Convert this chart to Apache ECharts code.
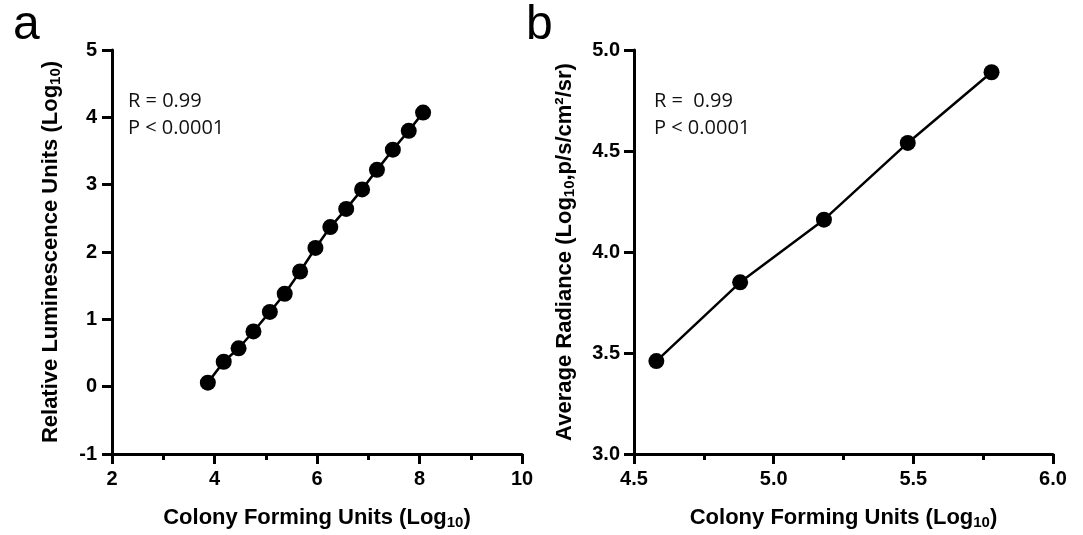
<!DOCTYPE html>
<html>
<head>
<meta charset="utf-8">
<title>CFU vs luminescence</title>
<script src="https://cdn.jsdelivr.net/npm/echarts@6/dist/echarts.min.js"></script>
</head>
<body style="margin:0;background:#fff">
<div id="main" style="width:1083px;height:535px;"></div>
<script type="text/javascript">
// panel a
var cfuA = [3.87, 4.18, 4.47, 4.76, 5.08, 5.37, 5.67, 5.97, 6.26, 6.57, 6.88, 7.17, 7.48, 7.79, 8.07];
var rluA = [0.06, 0.37, 0.57, 0.82, 1.11, 1.38, 1.71, 2.06, 2.37, 2.64, 2.93, 3.22, 3.52, 3.80, 4.07];
// panel b
var cfuB = [4.58, 4.88, 5.18, 5.48, 5.78];
var radB = [3.46, 3.85, 4.16, 4.54, 4.89];

var xNameA = 'Colony Forming Units (Log{s|10})';
var yNameA = 'Relative Luminescence Units (Log{s|10})';
var xNameB = 'Colony Forming Units (Log{s|10})';
var yNameB = 'Average Radiance (Log{s|10},p/s/cm²/sr)';

var FONT = 'Liberation Sans';
var chart = echarts.init(document.getElementById('main'));

function nameStyle() {
    return {
        fontFamily: FONT, fontWeight: 'bold', fontSize: 22, color: '#000',
        rich: { s: { fontFamily: FONT, fontWeight: 'bold', fontSize: 15, color: '#000', padding: [10, 0, 0, 0] } }
    };
}

function axis(grid, min, max, step, name, gap, minor, margin) {
    return {
        type: 'value', gridIndex: grid, min: min, max: max, interval: step,
        name: name, nameLocation: 'middle', nameGap: gap, nameTextStyle: nameStyle(),
        axisLine: { show: true, onZero: false, lineStyle: { color: '#000', width: 3 } },
        axisTick: { show: true, length: 10, lineStyle: { color: '#000', width: 3 } },
        minorTick: { show: minor, splitNumber: 2, length: 6, lineStyle: { color: '#000', width: 3 } },
        axisLabel: { color: '#000', fontFamily: FONT, fontWeight: 'bold', fontSize: 20, margin: margin,
            formatter: function (v) { return step < 1 ? v.toFixed(1) : String(v); } },
        splitLine: { show: false }
    };
}

function pairs(xs, ys) {
    return xs.map(function (x, i) { return [x, ys[i]]; });
}

var noteStyle = { fontFamily: 'Open Sans', fontSize: 20, fill: '#111', lineHeight: 27 };

var option = {
    backgroundColor: '#fff',
    animation: false,
    grid: [
        { left: 112, top: 50, width: 410, height: 409 },
        { left: 634, top: 50, width: 419, height: 409 }
    ],
    xAxis: [
        axis(0, 2, 10, 2, xNameA, 51, true, 15),
        axis(1, 4.5, 6.0, 0.5, xNameB, 51, true, 15)
    ],
    yAxis: [
        axis(0, -1, 5, 1, yNameA, 49, false, 15),
        axis(1, 3.0, 5.0, 0.5, yNameB, 57, false, 14)
    ],
    graphic: [
        { type: 'text', left: 13, top: 2, style: { text: 'a', fontFamily: FONT, fontSize: 48, fill: '#000' } },
        { type: 'text', left: 526, top: 2, style: { text: 'b', fontFamily: FONT, fontSize: 48, fill: '#000' } },
        { type: 'text', left: 128, top: 88, style: Object.assign({ text: 'R = 0.99\nP < 0.0001' }, noteStyle) },
        { type: 'text', left: 654, top: 88, style: Object.assign({ text: 'R =  0.99\nP < 0.0001' }, noteStyle) }
    ],
    series: [
        {
            type: 'line', xAxisIndex: 0, yAxisIndex: 0,
            data: pairs(cfuA, rluA),
            symbol: 'circle', symbolSize: 16,
            lineStyle: { color: '#000', width: 2.5 },
            itemStyle: { color: '#000' }
        },
        {
            type: 'line', xAxisIndex: 1, yAxisIndex: 1,
            data: pairs(cfuB, radB),
            symbol: 'circle', symbolSize: 16,
            lineStyle: { color: '#000', width: 2.5 },
            itemStyle: { color: '#000' }
        }
    ]
};

chart.setOption(option);
</script>
</body>
</html>
